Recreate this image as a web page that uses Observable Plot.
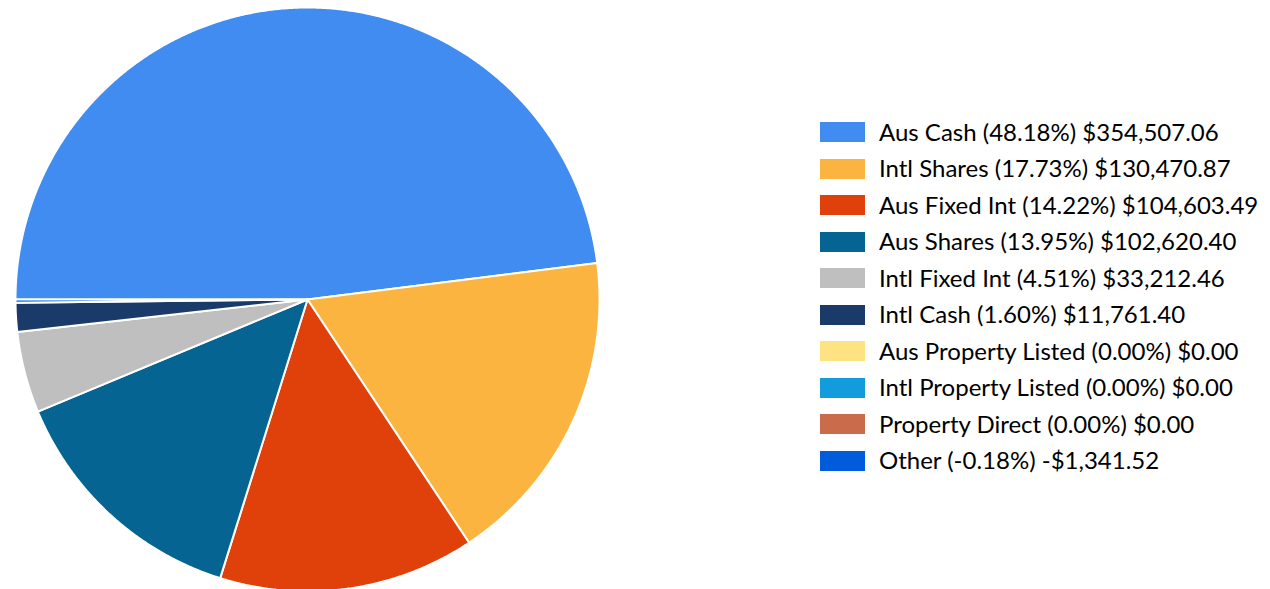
<!DOCTYPE html>
<html>
<head>
<meta charset="utf-8">
<script src="https://cdn.jsdelivr.net/npm/d3@7"></script>
<script src="https://cdn.jsdelivr.net/npm/@observablehq/plot@0.6"></script>
<style>
  html, body { margin: 0; padding: 0; background: #fff; }
  #wrap { position: relative; width: 1270px; height: 589px; overflow: hidden; }
  #legend { position: absolute; left: 820px; top: 114px; font-family: Lato, "Open Sans", sans-serif; font-size: 24px; color: #000; }
  .row { display: flex; align-items: center; height: 36.5px; }
  .sw { width: 45px; height: 20px; margin-right: 14px; flex: none; }
  .lab { white-space: nowrap; line-height: 1.2; }
</style>
</head>
<body>
<div id="wrap"><div id="chart"></div><div id="legend"></div></div>
<script>
const categories = ["Aus Cash", "Intl Shares", "Aus Fixed Int", "Aus Shares", "Intl Fixed Int", "Intl Cash", "Aus Property Listed", "Intl Property Listed", "Property Direct", "Other"];
const amounts = [354507.06, 130470.87, 104603.49, 102620.40, 33212.46, 11761.40, 0, 0, 0, -1341.52];
const colors = ["#418CF0", "#FCB441", "#E0400A", "#056492", "#BFBFBF", "#1A3B69", "#FFE382", "#129CDD", "#CA6B4B", "#005CDB"];

const W = 1270, H = 589, cx = 307, cy = 299, R = 292;

const data = categories.map((name, i) => ({name, value: amounts[i]}));
const total = d3.sum(amounts);

// pie layout (slices sized by absolute value, clockwise from 9 o'clock)
const arcs = d3.pie().sort(null).value(d => Math.abs(d.value))
  .startAngle(-Math.PI / 2).endAngle(3 * Math.PI / 2)(data);

const pts = [];
for (const a of arcs) {
  if (a.endAngle - a.startAngle <= 0) continue;
  const n = Math.max(2, Math.ceil((a.endAngle - a.startAngle) / 0.005));
  pts.push({name: a.data.name, x: 0, y: 0});
  for (let k = 0; k <= n; k++) {
    const t = a.startAngle + (a.endAngle - a.startAngle) * k / n;
    pts.push({name: a.data.name, x: Math.sin(t), y: Math.cos(t)});
  }
  pts.push({name: a.data.name, x: 0, y: 0});
}

const chart = Plot.plot({
  width: W, height: H,
  margin: 0,
  x: {domain: [-cx / R, (W - cx) / R], axis: null},
  y: {domain: [-(H - cy) / R, cy / R], axis: null},
  color: {domain: categories, range: colors},
  marks: [
    Plot.line(pts, {x: "x", y: "y", z: "name", fill: "name", stroke: "white", strokeWidth: 2, strokeLinejoin: "round", curve: "linear"})
  ]
});
document.getElementById("chart").appendChild(chart);

const fmtMoney = v => (v < 0 ? "-" : "") + "$" + d3.format(",.2f")(Math.abs(v));
const legend = document.getElementById("legend");
data.forEach((d, i) => {
  const row = document.createElement("div");
  row.className = "row";
  const sw = document.createElement("div");
  sw.className = "sw";
  sw.style.background = colors[i];
  const lab = document.createElement("div");
  lab.className = "lab";
  lab.textContent = `${d.name} (${(d.value / total * 100).toFixed(2)}%) ${fmtMoney(d.value)}`;
  row.appendChild(sw); row.appendChild(lab);
  legend.appendChild(row);
});
</script>
</body>
</html>
